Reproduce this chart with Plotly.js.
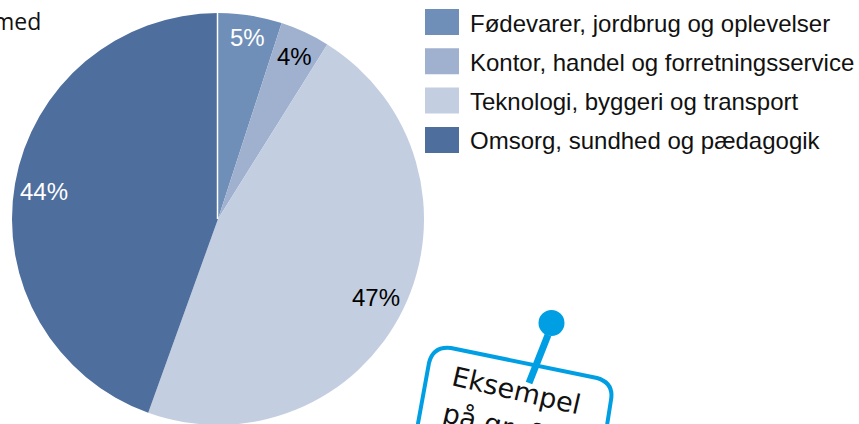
<!DOCTYPE html>
<html>
<head>
<meta charset="utf-8">
<script src="https://cdn.plot.ly/plotly-3.0.1.min.js"></script>
<style>html,body{margin:0;padding:0;background:#fff;overflow:hidden}#c{width:859px;height:480px}</style>
</head>
<body>
<div id="c"></div>
<script>
const categories = ["Fødevarer, jordbrug og oplevelser", "Kontor, handel og forretningsservice", "Teknologi, byggeri og transport", "Omsorg, sundhed og pædagogik"];
const shares = [5, 3.9, 46.6, 44.5];
const sliceColors = ["#6F8FB9", "#9FB1CF", "#C3CEE1", "#4E6E9D"];
const labelColors = ["#FFFFFF", "#000000", "#000000", "#FFFFFF"];
const labelTexts = ["5%", "4%", "47%", "44%"];
const calloutLines = ["Eksempel", "på grafer"];

const W = 859, H = 480;
const px = x => x / W, py = y => 1 - y / H;
const pt = (x, y) => px(x).toFixed(5) + " " + py(y).toFixed(5);

const labelPos = [[247, 37], [294, 56], [376, 297], [44, 191]];
const annotations = labelTexts.map((t, i) => ({
  xref: "paper", yref: "paper", x: px(labelPos[i][0]), y: py(labelPos[i][1]),
  xanchor: "center", yanchor: "middle", showarrow: false,
  text: t,
  font: {family: "Liberation Sans, Arial, sans-serif", size: 24, color: labelColors[i]}
}));
const shapes = [];
categories.forEach((c, i) => {
  const top = 9 + i * 39.3;
  shapes.push({type: "rect", xref: "paper", yref: "paper", x0: px(425), x1: px(459), y0: py(top), y1: py(top + 26),
    fillcolor: sliceColors[i], line: {width: 0}});
  annotations.push({xref: "paper", yref: "paper", x: px(468), y: py(top + 14), xanchor: "left", yanchor: "middle",
    showarrow: false, text: c, font: {family: "Liberation Sans, Arial, sans-serif", size: 24, color: "#111111"}});
});
// divider at 12 o'clock
shapes.push({type: "line", xref: "paper", yref: "paper", x0: px(217.5), x1: px(217.5), y0: py(13), y1: py(219),
  line: {color: "#FFFFFF", width: 1.5}});
// callout note
const blue = "#009FE3";
shapes.push({type: "path", xref: "paper", yref: "paper", line: {color: blue, width: 4}, fillcolor: "rgba(0,0,0,0)",
  path: "M " + pt(415, 440) + " L " + pt(429, 363) + " Q " + pt(433, 346) + " " + pt(451, 348) +
        " L " + pt(597, 378) + " Q " + pt(614, 383) + " " + pt(611, 400) + " L " + pt(600, 470)});
shapes.push({type: "line", xref: "paper", yref: "paper", x0: px(548), y0: py(335), x1: px(529), y1: py(383),
  line: {color: blue, width: 7}});
shapes.push({type: "circle", xref: "paper", yref: "paper", x0: px(538.5), x1: px(564.5), y0: py(310), y1: py(336),
  fillcolor: blue, line: {width: 0}});
annotations.push({xref: "paper", yref: "paper", x: px(516.5), y: py(390), xanchor: "center", yanchor: "middle", showarrow: false,
  text: calloutLines[0], textangle: 13, font: {family: "DejaVu Sans, sans-serif", size: 27, color: "#111111"}});
annotations.push({xref: "paper", yref: "paper", x: px(505), y: py(426), xanchor: "center", yanchor: "middle", showarrow: false,
  text: calloutLines[1], textangle: 13, font: {family: "DejaVu Sans, sans-serif", size: 27, color: "#111111"}});
annotations.push({xref: "paper", yref: "paper", x: px(43), y: py(21), xanchor: "right", yanchor: "middle", showarrow: false,
  text: "med", font: {family: "Open Sans, sans-serif", size: 23, color: "#111111"}});

Plotly.newPlot("c", [{
  type: "pie", labels: categories, values: shares, sort: false, direction: "clockwise", rotation: 0,
  marker: {colors: sliceColors, line: {width: 0}}, textinfo: "none", hoverinfo: "label+percent",
  domain: {x: [px(12), px(424)], y: [py(425), py(13)]}
}], {
  width: W, height: H, margin: {l: 0, r: 0, t: 0, b: 0}, showlegend: false,
  paper_bgcolor: "#fff", annotations, shapes
}, {displayModeBar: false, staticPlot: true});
</script>
</body>
</html>
